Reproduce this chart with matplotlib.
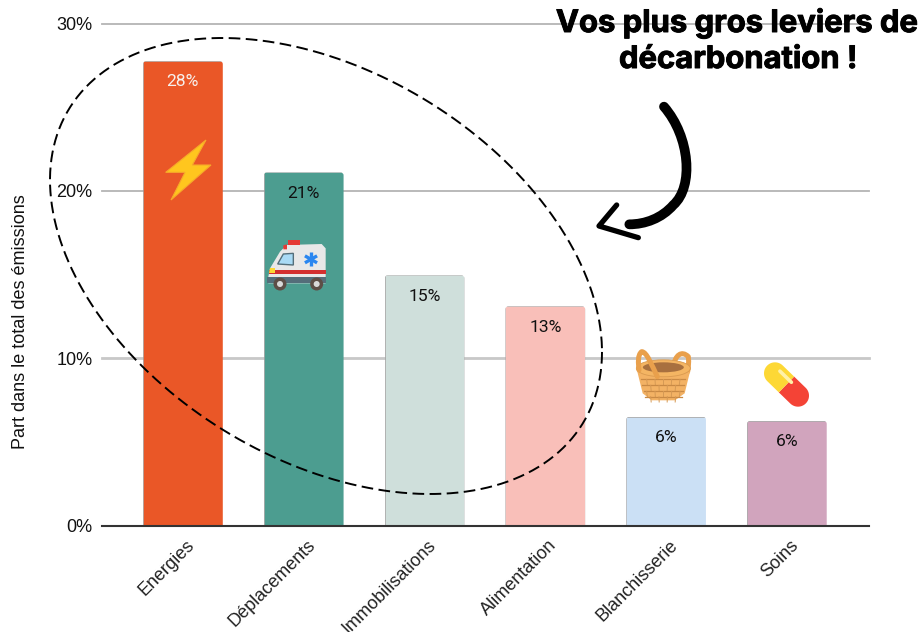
import numpy as np
import matplotlib
matplotlib.use("Agg")
import matplotlib.pyplot as plt
import matplotlib.patheffects as pe
from matplotlib.patches import Polygon, Circle, Ellipse, FancyBboxPatch, PathPatch
from matplotlib.path import Path
from matplotlib.transforms import IdentityTransform, ScaledTranslation

categories = ["Energies", "Déplacements", "Immobilisations", "Alimentation", "Blanchisserie", "Soins"]
values = [27.75, 21.1, 14.95, 13.1, 6.5, 6.25]
value_labels = ["28%", "21%", "15%", "13%", "6%", "6%"]
colors = ["#EA5727", "#4C9D90", "#CFDFDB", "#F9BFB9", "#CBE0F5", "#D1A4BD"]
label_colors = ["#F7F0EC", "#111111", "#111111", "#111111", "#111111", "#111111"]
yticks = [0, 10, 20, 30]
ytick_labels = ["0%", "10%", "20%", "30%"]

W, H = 921, 632
fig = plt.figure(figsize=(W / 100, H / 100), dpi=100)
L, R, T, B = 102, 869, 23.5, 525.5
ax = fig.add_axes([L / W, 1 - B / H, (R - L) / W, (B - T) / H])
ax.set_xlim(-0.67, 5.68)
ax.set_ylim(0, 30)
for s in ax.spines.values():
    s.set_visible(False)
ax.set_axisbelow(True)
for y, lw, c in [(10, 2.0, "#C8C8C8"), (20, 1.3, "#B4B4B4"), (30, 1.3, "#B4B4B4")]:
    ax.axhline(y, color=c, lw=lw, zorder=0, clip_on=False)
ax.axhline(0, color="#333333", lw=1.5, zorder=4, clip_on=False)

x = np.arange(len(categories))
bars = ax.bar(x, values, width=0.66, color=colors, edgecolor="#9A9A9A", linewidth=0.5, zorder=2)
for b in bars:
    box = b.get_bbox().transformed(ax.transData)
    clip = FancyBboxPatch((box.x0, box.y0 - 10), box.width, box.height + 10,
                          boxstyle="round,pad=0,rounding_size=3", transform=IdentityTransform())
    b.set_clip_path(clip)

for xi, v, t, c in zip(x, values, value_labels, label_colors):
    ax.annotate(t, (xi, v), xytext=(0, -15), textcoords="offset points", ha="center", va="center",
                fontsize=12.6, color=c, family="Roboto", zorder=5)

ax.set_yticks(yticks)
ax.set_yticklabels(ytick_labels, fontsize=13, family="Liberation Sans", color="#111111")
ax.tick_params(axis="y", length=0, pad=7)
ax.set_xticks(x)
ax.set_xticklabels(categories, fontsize=13, family="Liberation Sans", color="#222222",
                   rotation=45, ha="right", va="top", rotation_mode="anchor")
ax.tick_params(axis="x", length=0, pad=8)
off = ScaledTranslation(3 / 100, 0, fig.dpi_scale_trans)
for lab in ax.get_xticklabels():
    lab.set_transform(lab.get_transform() + off)

fig.text(20.5 / W, 1 - 322 / H, "Part dans le total des émissions", rotation=90, ha="center", va="center",
         fontsize=13, family="Liberation Sans", color="#111111")

ov = fig.add_axes([0, 0, 1, 1], facecolor="none")
ov.set_xlim(0, W)
ov.set_ylim(H, 0)
ov.axis("off")
ov.set_zorder(10)

for tx, ty, line in [(737, 32, "Vos plus gros leviers de"), (738, 68, "décarbonation !")]:
    ov.text(tx, ty, line, ha="center", va="baseline", fontsize=22.3, family="Inter", weight="bold",
            color="black", path_effects=[pe.withStroke(linewidth=0.7, foreground="black")])

t = np.linspace(0, 2 * np.pi, 400)
cx, cy, hx, hy, rho = 326, 266, 276, 228, 0.377
phi = np.arccos(rho)
ov.plot(cx + hx * np.cos(t), cy + hy * np.cos(t - phi), color="black", lw=1.4,
        dashes=(6, 2.8), zorder=6)

def Z(pts, ox, oy):
    return [(p[0] / 3 + ox, p[1] / 3 + oy) for p in pts]

def curve(pts, **kw):
    codes = [Path.MOVETO] + [Path.CURVE4] * (len(pts) - 1)
    ov.add_patch(PathPatch(Path(pts, codes), fill=False, capstyle="round", joinstyle="round", **kw))

a = Z([(222, 50), (300, 140), (312, 290), (250, 345), (215, 385), (165, 403), (118, 403)], 590, 90)
curve(a, lw=7, edgecolor="black")
head = Z([(80, 345), (27, 408), (145, 443)], 590, 90)
ov.plot(*zip(*head), color="black", lw=3.8, solid_capstyle="round", solid_joinstyle="round")

bolt = Z([(228, 60), (107, 157), (165, 157), (123, 240), (243, 135), (187, 135)], 130, 120)
ov.add_patch(Polygon(bolt, closed=True, fc="#FFC61E", ec="#F6A92A", lw=0.8, zorder=6))

o = (130, 120)
ov.add_patch(Polygon(Z([(415, 470), (420, 445), (450, 395), (470, 375), (575, 372), (587, 385), (587, 490), (415, 490)], *o),
                     closed=True, fc="#E8E8E8", ec="none", zorder=6))
ov.add_patch(Polygon(Z([(443, 432), (460, 402), (490, 400), (490, 435)], *o), closed=True, fc="#A9DAF5", ec="#546E7A", lw=1, zorder=7))
ov.add_patch(Polygon(Z([(418, 450), (587, 450), (587, 463), (418, 463)], *o), closed=True, fc="#D32F2F", ec="none", zorder=7))
ov.add_patch(Polygon(Z([(419, 445), (436, 445), (436, 458), (417, 458)], *o), closed=True, fc="#FDD835", ec="none", zorder=8))
ov.add_patch(Polygon(Z([(412, 472), (587, 472), (587, 490), (412, 490)], *o), closed=True, fc="#546E7A", ec="none", zorder=7))
ov.add_patch(Polygon(Z([(475, 360), (510, 360), (510, 374), (475, 374)], *o), closed=True, fc="#E53935", ec="none", zorder=7))
ov.add_patch(Polygon(Z([(460, 376), (471, 373), (471, 388), (460, 388)], *o), closed=True, fc="#E53935", ec="none", zorder=7))
for wx in [450, 560]:
    c = Z([(wx, 492)], *o)[0]
    ov.add_patch(Circle(c, 6.5, fc="#5D4E46", ec="none", zorder=8))
    ov.add_patch(Circle(c, 3, fc="#D9D9D9", ec="none", zorder=9))
c = np.array(Z([(543, 418)], *o)[0])
for ang in [90, 30, 150]:
    d = 7 * np.array([np.cos(np.radians(ang)), np.sin(np.radians(ang))])
    ov.plot([c[0] - d[0], c[0] + d[0]], [c[1] - d[1], c[1] + d[1]], color="#2A86F0", lw=2.4,
            solid_capstyle="butt", zorder=8)

o = (620, 340)
curve(Z([(160, 80), (165, 45), (185, 30), (205, 50), (207, 70), (205, 85), (203, 95)], *o), lw=3.6, edgecolor="#E9A04C", zorder=6)
ov.add_patch(Polygon(Z([(52, 95), (210, 95), (194, 160), (165, 181), (95, 181), (68, 160)], *o),
                     closed=True, fc="#F3B264", ec="none", zorder=6))
for k, yy in enumerate([118, 136, 154, 170]):
    ov.plot(*zip(*Z([(60 + (yy - 100) * 0.2, yy), (200 - (yy - 100) * 0.2, yy)], *o)), color="#C98A45", lw=0.9, zorder=7)
    xs = np.arange(80 + 12 * (k % 2), 190, 25)
    for xx in xs:
        ov.plot(*zip(*Z([(xx, yy), (xx + (130 - xx) * 0.04, yy + 16)], *o)), color="#D69A55", lw=0.7, zorder=7)
ec = Z([(130, 85)], *o)[0]
ov.add_patch(Ellipse(ec, 54, 17, fc="#F4B563", ec="#D99A50", lw=0.6, zorder=8))
ov.add_patch(Ellipse((ec[0], ec[1] - 1), 41, 10, fc="#A8703F", ec="none", zorder=8))
curve(Z([(112, 110), (95, 75), (80, 35), (65, 35), (52, 45), (55, 70), (57, 90)], *o), lw=3.6, edgecolor="#E9A04C", zorder=9)

p1 = np.array(Z([(465, 100)], *o)[0])
p2 = np.array(Z([(534, 167)], *o)[0])
mid = (p1 + p2) / 2
u = (p2 - p1) / np.linalg.norm(p2 - p1)
n = np.array([-u[1], u[0]])
r = 11
def half(center, direction, fc):
    base = np.arctan2(direction[1], direction[0])
    th = np.linspace(base - np.pi / 2, base + np.pi / 2, 40)
    arc = np.c_[center[0] + r * np.cos(th), center[1] + r * np.sin(th)]
    perp = np.array([-direction[1], direction[0]])
    pts = np.vstack([mid - r * perp, arc, mid + r * perp])
    ov.add_patch(Polygon(pts, closed=True, fc=fc, ec="none", zorder=6))
half(p2, u, "#F44336")
half(p1, -u, "#FDD835")
s = p1 + n * (-5) + u * 2
e = p1 + n * (-5) + u * 18
ov.plot([s[0], e[0]], [s[1], e[1]], color="#FFF1A8", lw=2.6, solid_capstyle="round", zorder=7)

fig.savefig("out.png", dpi=100)
